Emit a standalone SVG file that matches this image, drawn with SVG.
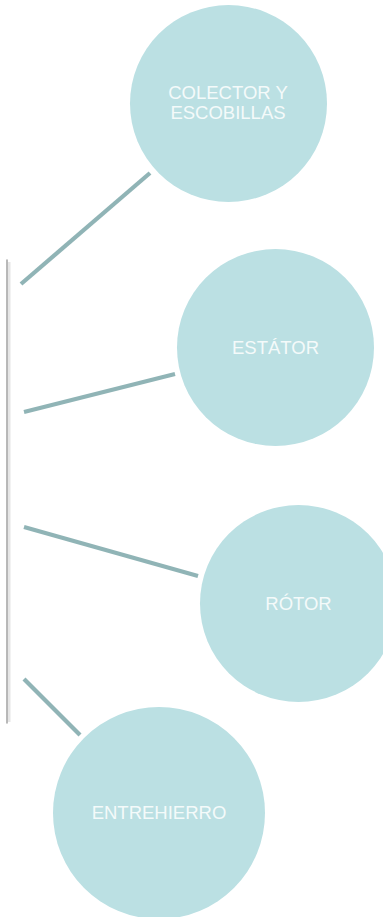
<svg xmlns="http://www.w3.org/2000/svg" width="383" height="917" viewBox="0 0 383 917">
<style>
.node circle{fill:#bbe0e3}
.node text{fill:#f4fafa;font-family:"Liberation Sans",Arial,sans-serif;font-size:18.5px;text-anchor:middle}
.conn line{stroke:#90b4b6;stroke-width:4.2;stroke-linecap:butt}
</style>
<rect width="383" height="917" fill="#ffffff"/>
<g id="bracket">
<line x1="9" y1="262" x2="9" y2="722" stroke="#e6e6e6" stroke-width="3"/>
<line x1="7" y1="260" x2="7" y2="723" stroke="#a8a8a8" stroke-width="1.6" stroke-linecap="round"/>
</g>
<g class="conn" id="connectors">
<line x1="21" y1="284" x2="150" y2="173"/>
<line x1="24" y1="412" x2="175" y2="374"/>
<line x1="24" y1="527" x2="198" y2="576"/>
<line x1="24" y1="679" x2="80" y2="735"/>
</g>
<g class="node" id="colector">
<circle cx="228.5" cy="103.5" r="98.5"/>
<text x="228" y="99">COLECTOR Y</text>
<text x="228" y="118.5">ESCOBILLAS</text>
</g>
<g class="node" id="estator">
<circle cx="275.5" cy="347.5" r="98.5"/>
<text x="275.5" y="354">ESTÁTOR</text>
</g>
<g class="node" id="rotor">
<circle cx="298.5" cy="603.5" r="98.5"/>
<text x="298.5" y="610">RÓTOR</text>
</g>
<g class="node" id="entrehierro">
<circle cx="159" cy="813" r="106"/>
<text x="159" y="819">ENTREHIERRO</text>
</g>
</svg>
